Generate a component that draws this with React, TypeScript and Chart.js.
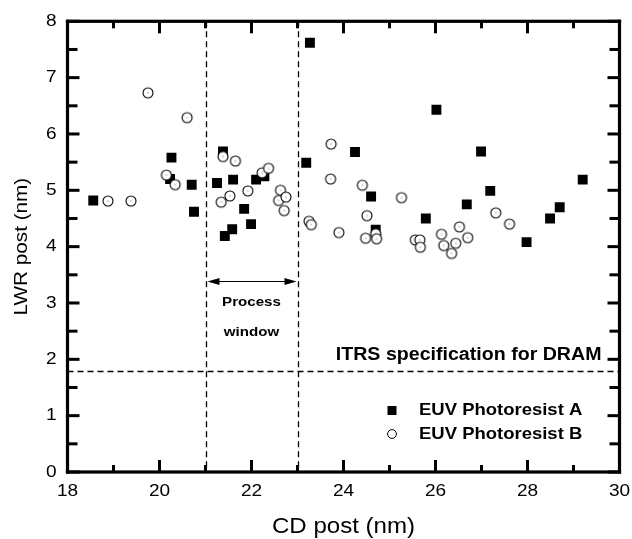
import { useEffect, useRef } from "react";
import { Chart, registerables } from "chart.js";

Chart.register(...registerables);

// ---- data ----
const cdA = [18.56, 20.26, 20.23, 20.70, 20.75, 21.38, 21.25, 21.60, 21.42, 21.58, 21.84, 21.99, 22.10, 22.28, 23.27, 23.19, 24.25, 24.60, 24.70, 26.02, 25.79, 26.68, 26.99, 27.19, 27.98, 28.49, 28.70, 29.20];
const lwrA = [4.82, 5.58, 5.20, 5.10, 4.62, 5.69, 5.13, 5.19, 4.19, 4.31, 4.67, 4.40, 5.19, 5.25, 7.62, 5.49, 5.68, 4.89, 4.30, 6.43, 4.50, 4.75, 5.69, 4.99, 4.08, 4.50, 4.70, 5.19];

const cdB = [18.88, 19.38, 19.75, 20.60, 20.15, 20.34, 21.38, 21.65, 21.34, 21.53, 21.92, 22.23, 22.37, 22.63, 22.59, 22.75, 22.71, 23.25, 23.30, 23.73, 23.72, 24.41, 23.90, 24.51, 24.48, 24.70, 24.72, 25.26, 25.56, 25.66, 25.67, 26.13, 26.18, 26.35, 26.44, 26.52, 26.70, 27.31, 27.61];
const lwrB = [4.81, 4.81, 6.73, 6.29, 5.27, 5.10, 5.60, 5.52, 4.79, 4.90, 4.99, 5.31, 5.39, 5.00, 4.82, 4.88, 4.64, 4.45, 4.39, 5.82, 5.20, 5.09, 4.25, 4.55, 4.15, 4.23, 4.14, 4.87, 4.12, 4.12, 3.99, 4.22, 4.02, 3.88, 4.06, 4.35, 4.16, 4.60, 4.40];

const seriesNames = ["EUV Photoresist A", "EUV Photoresist B"];
const xTickLabels = [18, 20, 22, 24, 26, 28, 30];
const yTickLabels = [0, 1, 2, 3, 4, 5, 6, 7, 8];
const processWindow = [21, 23];
const itrsSpec = 1.8;
const arrowLevel = 3.39;
const xTitle = "CD post (nm)";
const yTitle = "LWR post (nm)";
const itrsLabel = "ITRS specification for DRAM";
const windowLabel = ["Process", "window"];

const SX = 1.12;
const FAM = '"Liberation Sans", Arial, Helvetica, sans-serif';

function drawText(ctx: CanvasRenderingContext2D, s: string, x: number, y: number, size: number, bold: boolean, align: CanvasTextAlign, rot = 0) {
  ctx.save();
  ctx.font = `${bold ? "bold " : ""}${size}px ${FAM}`;
  ctx.fillStyle = "#000";
  ctx.textAlign = align;
  ctx.textBaseline = "middle";
  ctx.translate(x, y);
  if (rot) ctx.rotate(rot);
  ctx.scale(SX, 1);
  ctx.fillText(s, 0, 0);
  ctx.restore();
}

function makeCircle(r: number) {
  const c = document.createElement("canvas");
  const s = 14;
  c.width = s;
  c.height = s;
  const g = c.getContext("2d")!;
  g.beginPath();
  g.arc(s / 2, s / 2, r, 0, Math.PI * 2);
  g.fillStyle = "#fff";
  g.fill();
  g.lineWidth = 1.1;
  g.strokeStyle = "#000";
  g.stroke();
  g.fillStyle = "#666";
  g.fillRect(s / 2 - 0.5, s / 2 - 0.5, 1, 1);
  return c;
}

const decorPlugin = {
  id: "decor",
  beforeDatasetsDraw(chart: any) {
    const ctx: CanvasRenderingContext2D = chart.ctx;
    const { left, right, top, bottom } = chart.chartArea;
    const xs = chart.scales.x;
    const ys = chart.scales.y;
    ctx.save();
    ctx.strokeStyle = "#000";
    ctx.lineWidth = 1.3;
    ctx.setLineDash([6, 4]);
    for (const v of processWindow) {
      const px = Math.round(xs.getPixelForValue(v)) + 0.5;
      ctx.beginPath();
      ctx.moveTo(px, top);
      ctx.lineTo(px, bottom);
      ctx.stroke();
    }
    const py = Math.round(ys.getPixelForValue(itrsSpec)) + 0.5;
    ctx.beginPath();
    ctx.moveTo(left, py);
    ctx.lineTo(right, py);
    ctx.stroke();
    ctx.setLineDash([]);
    const ax1 = xs.getPixelForValue(processWindow[0]) + 2;
    const ax2 = xs.getPixelForValue(processWindow[1]) - 1;
    const ay = Math.round(ys.getPixelForValue(arrowLevel)) + 0.5;
    ctx.lineWidth = 1.1;
    ctx.beginPath();
    ctx.moveTo(ax1 + 6, ay);
    ctx.lineTo(ax2 - 6, ay);
    ctx.stroke();
    ctx.fillStyle = "#000";
    ctx.beginPath();
    ctx.moveTo(ax1, ay);
    ctx.lineTo(ax1 + 12, ay - 3.5);
    ctx.lineTo(ax1 + 12, ay + 3.5);
    ctx.closePath();
    ctx.fill();
    ctx.beginPath();
    ctx.moveTo(ax2, ay);
    ctx.lineTo(ax2 - 12, ay - 3.5);
    ctx.lineTo(ax2 - 12, ay + 3.5);
    ctx.closePath();
    ctx.fill();
    ctx.restore();

    const cx = xs.getPixelForValue((processWindow[0] + processWindow[1]) / 2);
    drawText(ctx, windowLabel[0], cx, ay + 21, 13.5, true, "center");
    drawText(ctx, windowLabel[1], cx, ay + 51, 13.5, true, "center");
    drawText(ctx, itrsLabel, right - 18, py - 16, 17.5, true, "right");
  },
  afterDraw(chart: any) {
    const ctx: CanvasRenderingContext2D = chart.ctx;
    const { left, right, top, bottom } = chart.chartArea;
    const xs = chart.scales.x;
    const ys = chart.scales.y;
    ctx.save();
    ctx.fillStyle = "#000000";
    const tw = 3;
    for (let v = 18; v <= 30; v += 1) {
      const px = xs.getPixelForValue(v);
      const len = v % 2 === 0 ? 12 : 7;
      ctx.fillRect(px - tw / 2, bottom - len, tw, len);
      ctx.fillRect(px - tw / 2, top, tw, len);
    }
    for (let v = 0; v <= 8; v += 0.5) {
      const py = ys.getPixelForValue(v);
      const len = Number.isInteger(v) ? 12 : 10;
      ctx.fillRect(left, py - tw / 2, len, tw);
      ctx.fillRect(right - len, py - tw / 2, len, tw);
    }
    const fw = 3.2;
    ctx.fillRect(left - fw / 2, top - fw / 2, right - left + fw, fw);
    ctx.fillRect(left - fw / 2, bottom - fw / 2, right - left + fw, fw);
    ctx.fillRect(left - fw / 2, top - fw / 2, fw, bottom - top + fw);
    ctx.fillRect(right - fw / 2, top - fw / 2, fw, bottom - top + fw);
    ctx.restore();

    for (const v of xTickLabels) {
      drawText(ctx, String(v), xs.getPixelForValue(v), bottom + 19, 17, false, "center");
    }
    for (const v of yTickLabels) {
      drawText(ctx, String(v), left - 11, ys.getPixelForValue(v), 17, false, "right");
    }
    drawText(ctx, xTitle, (left + right) / 2, bottom + 55, 21.5, false, "center");
    drawText(ctx, yTitle, 22, (top + bottom) / 2, 18.5, false, "center", -Math.PI / 2);

    const lx = 392;
    const ly1 = 410.5;
    const ly2 = 434;
    ctx.save();
    ctx.fillStyle = "#000";
    ctx.fillRect(lx - 4.5, ly1 - 4.5, 9, 9);
    ctx.beginPath();
    ctx.arc(lx, ly2, 4.4, 0, Math.PI * 2);
    ctx.fillStyle = "#fff";
    ctx.fill();
    ctx.lineWidth = 1;
    ctx.strokeStyle = "#000";
    ctx.stroke();
    ctx.restore();
    drawText(ctx, seriesNames[0], 419, ly1, 16.5, true, "left");
    drawText(ctx, seriesNames[1], 419, ly2, 16.5, true, "left");
  },
};

export default function App() {
  const ref = useRef<HTMLCanvasElement | null>(null);
  useEffect(() => {
    if (!ref.current) return;
    const circleImg = makeCircle(5);
    const chart = new Chart(ref.current, {
      type: "scatter",
      data: {
        datasets: [
          {
            label: seriesNames[0],
            data: cdA.map((x, i) => ({ x, y: lwrA[i] })),
            pointStyle: "rect",
            pointRadius: 7,
            backgroundColor: "#000",
            borderWidth: 0,
            order: 1,
          },
          {
            label: seriesNames[1],
            data: cdB.map((x, i) => ({ x, y: lwrB[i] })),
            pointStyle: circleImg as any,
            pointRadius: 5,
            backgroundColor: "#fff",
            borderColor: "#000",
            borderWidth: 1,
            order: 0,
          },
        ],
      },
      options: {
        animation: false,
        responsive: false,
        events: [],
        layout: { padding: { left: 67.5, right: 12.5, top: 21.3, bottom: 67 } },
        plugins: { legend: { display: false }, tooltip: { enabled: false } },
        scales: {
          x: { type: "linear", min: 18, max: 30, display: false },
          y: { type: "linear", min: 0, max: 8, display: false },
        },
      },
      plugins: [decorPlugin],
    });
    return () => chart.destroy();
  }, []);
  return (
    <div style={{ position: "absolute", left: 0, top: 0, width: 632, height: 539, background: "#fff" }}>
      <canvas ref={ref} width={632} height={539} />
    </div>
  );
}
